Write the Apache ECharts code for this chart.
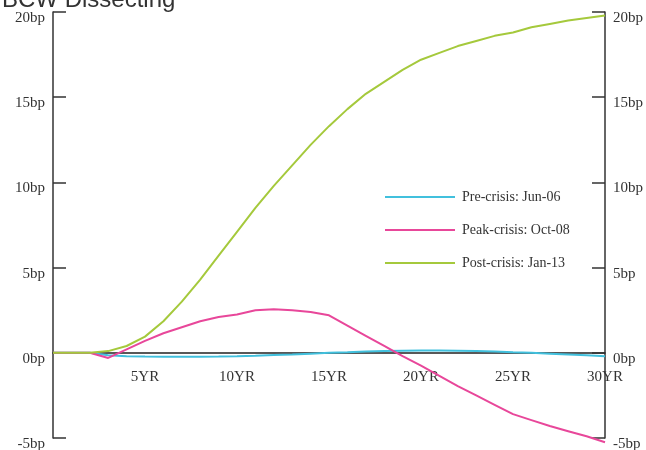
<!DOCTYPE html>
<html>
<head>
<meta charset="utf-8">
<script src="https://cdn.jsdelivr.net/npm/echarts@6/dist/echarts.min.js"></script>
<style>html,body{margin:0;padding:0;background:#fff;}#c{width:646px;height:450px;}</style>
</head>
<body>
<div id="c"></div>
<script>
var years = [0,1,2,3,4,5,6,7,8,9,10,11,12,13,14,15,16,17,18,19,20,21,22,23,24,25,26,27,28,29,30];
var preCrisis = [0,0,0,-0.15,-0.2,-0.22,-0.23,-0.23,-0.23,-0.22,-0.2,-0.17,-0.13,-0.1,-0.05,0,0.03,0.07,0.1,0.12,0.13,0.13,0.12,0.1,0.07,0.03,0,-0.05,-0.1,-0.15,-0.2];
var peakCrisis = [0,0,0,-0.3,0.2,0.7,1.15,1.5,1.85,2.1,2.25,2.5,2.55,2.5,2.4,2.2,1.6,1.0,0.4,-0.2,-0.75,-1.35,-1.95,-2.5,-3.05,-3.6,-3.95,-4.3,-4.6,-4.9,-5.25];
var postCrisis = [0,0,0,0.1,0.4,0.95,1.85,3.0,4.3,5.7,7.1,8.5,9.8,11.0,12.2,13.3,14.3,15.2,15.9,16.6,17.2,17.6,18.0,18.3,18.6,18.8,19.1,19.3,19.5,19.65,19.8];
var seriesNames = ['Pre-crisis: Jun-06','Peak-crisis: Oct-08','Post-crisis: Jan-13'];
var titleText = 'BCW Dissecting';

function pairs(v){ return years.map(function(y,i){ return [y, v[i]]; }); }

var serif = 'Liberation Serif';
var yAxisBase = function(pos){
  return {
    type:'value', min:-5, max:20, interval:5, position:pos,
    axisLine:{show:true, onZero:false, lineStyle:{color:'#333', width:1.5}},
    axisTick:{show:true, inside:true, length:13, lineStyle:{color:'#333', width:1.5}},
    splitLine:{show:false},
    axisLabel:{fontFamily:serif, fontSize:15, color:'#333', margin:8,
      verticalAlign:'top', lineHeight:12,
      formatter:function(v){return v+'bp';}}
  };
};

var chart = echarts.init(document.getElementById('c'));
chart.setOption({
  animation:false,
  title:{text:titleText, left:-3, top:-17, textStyle:{fontFamily:'Liberation Sans', fontSize:24, fontWeight:'normal', color:'#333'}},
  grid:{left:53, right:41, top:12, bottom:12, outerBoundsMode:'none', containLabel:false},
  legend:{
    orient:'vertical', left:380, top:185, icon:'rect', itemWidth:70, itemHeight:2, itemGap:19,
    textStyle:{fontFamily:serif, fontSize:14, color:'#333', padding:[0,0,0,2]},
    data:seriesNames
  },
  xAxis:{
    type:'value', min:0, max:30, interval:5, offset:-85,
    axisLine:{show:true, onZero:false, lineStyle:{color:'#222', width:1.5}},
    axisTick:{show:false}, splitLine:{show:false},
    axisLabel:{fontFamily:serif, fontSize:15, color:'#333', margin:17,
      formatter:function(v){return v===0?'':v+'YR';}}
  },
  yAxis:[yAxisBase('left'), yAxisBase('right')],
  series:[
    {name:seriesNames[0], type:'line', clip:false, data:pairs(preCrisis), symbol:'none', lineStyle:{color:'#41c0dd', width:2}, itemStyle:{color:'#41c0dd'}, z:3},
    {name:seriesNames[1], type:'line', clip:false, data:pairs(peakCrisis), symbol:'none', lineStyle:{color:'#e8479a', width:2}, itemStyle:{color:'#e8479a'}},
    {name:seriesNames[2], type:'line', clip:false, data:pairs(postCrisis), symbol:'none', lineStyle:{color:'#a5c93c', width:2}, itemStyle:{color:'#a5c93c'}}
  ]
});
</script>
</body>
</html>
